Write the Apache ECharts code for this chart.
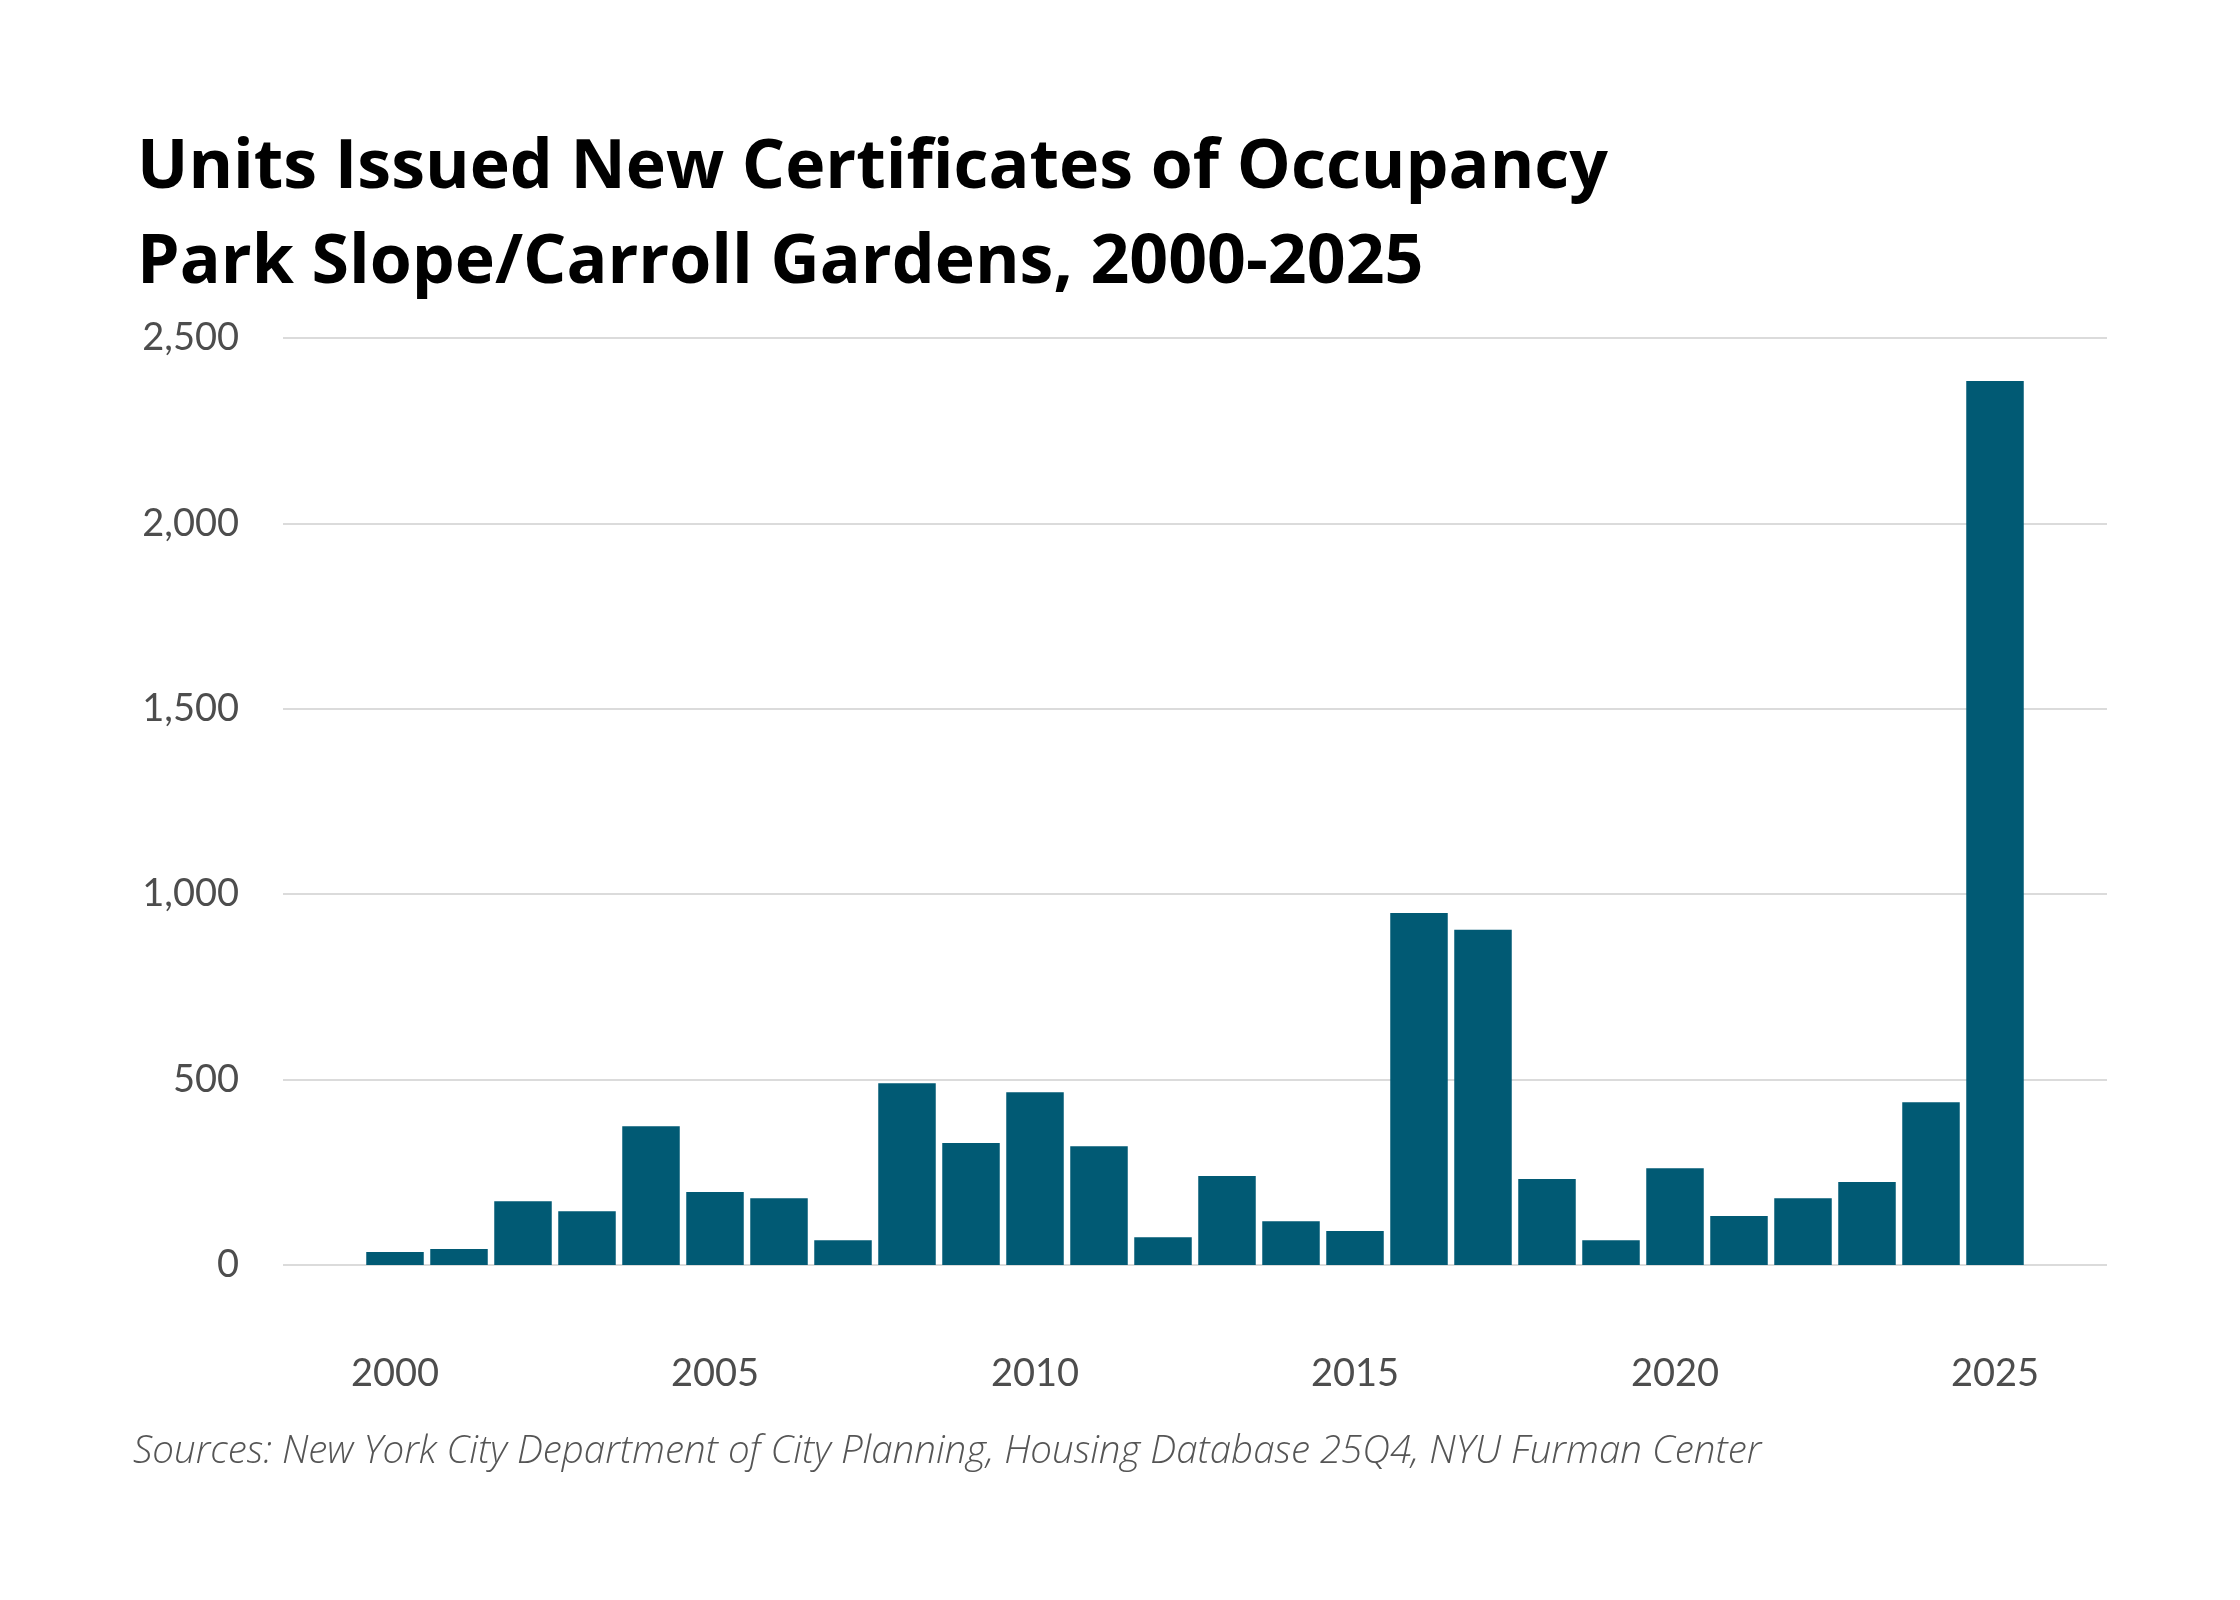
<!DOCTYPE html>
<html>
<head>
    <meta charset="utf-8">
    <title>Units Issued New Certificates of Occupancy</title>
    <style>
        html, body { margin: 0; padding: 0; background: #fff; }
        #chart { width: 2240px; height: 1600px; }
    </style>
</head>
<body>
<div id="chart"></div>

<script src="https://cdn.jsdelivr.net/npm/echarts@6.0.0/dist/echarts.min.js"></script>
<script>
    // data
    var years = [2000, 2001, 2002, 2003, 2004, 2005, 2006, 2007, 2008, 2009,
                 2010, 2011, 2012, 2013, 2014, 2015, 2016, 2017, 2018, 2019,
                 2020, 2021, 2022, 2023, 2024, 2025];
    var units = [35, 43, 172, 145, 374, 197, 180, 67, 490, 329,
                 466, 320, 75, 240, 118, 92, 949, 904, 232, 67,
                 261, 132, 180, 224, 439, 2384];
    var xTickYears = [2000, 2005, 2010, 2015, 2020, 2025];

    var titleText = 'Units Issued New Certificates of Occupancy\nPark Slope/Carroll Gardens, 2000-2025';
    var sourceText = 'Sources: New York City Department of City Planning, Housing Database 25Q4, NYU Furman Center';

    var barData = [];
    for (var i = 0; i < years.length; i++) {
        barData.push([years[i], units[i]]);
    }

    var myChart = echarts.init(document.getElementById('chart'));

    var option = {
        animation: false,
        backgroundColor: '#ffffff',
        title: {
            text: titleText,
            left: 132,
            top: 116,
            textStyle: {
                fontFamily: 'Open Sans',
                fontWeight: 'bold',
                fontSize: 68,
                lineHeight: 95,
                color: '#000000'
            }
        },
        graphic: [{
            type: 'text',
            left: 133,
            top: 1433,
            style: {
                text: sourceText,
                fontFamily: 'Open Sans',
                fontStyle: 'italic',
                fontWeight: 300,
                fontSize: 38.5,
                fill: '#555555'
            }
        }],
        grid: {
            left: 283,
            right: 133,
            top: 338,
            bottom: 1600 - 1265,
            containLabel: false
        },
        xAxis: {
            type: 'value',
            min: 1998.25,
            max: 2026.75,
            axisLine: { show: false },
            axisTick: { show: false },
            splitLine: { show: false },
            axisLabel: {
                customValues: xTickYears,
                margin: 90,
                fontFamily: 'Lato',
                fontSize: 38,
                lineHeight: 38,
                color: '#4d4d4d',
                formatter: function (v) { return String(v); }
            }
        },
        yAxis: {
            type: 'value',
            min: 0,
            max: 2500,
            interval: 500,
            axisLine: { show: false },
            axisTick: { show: false },
            splitLine: {
                lineStyle: { color: '#cfcfcf', width: 1.5 }
            },
            axisLabel: {
                margin: 44,
                fontFamily: 'Lato',
                fontSize: 38,
                color: '#4d4d4d',
                formatter: function (v) { return v.toLocaleString('en-US'); }
            }
        },
        series: [{
            type: 'bar',
            data: barData,
            barWidth: 57.5,
            itemStyle: { color: '#015a74' }
        }]
    };

    myChart.setOption(option);
</script>
</body>
</html>
